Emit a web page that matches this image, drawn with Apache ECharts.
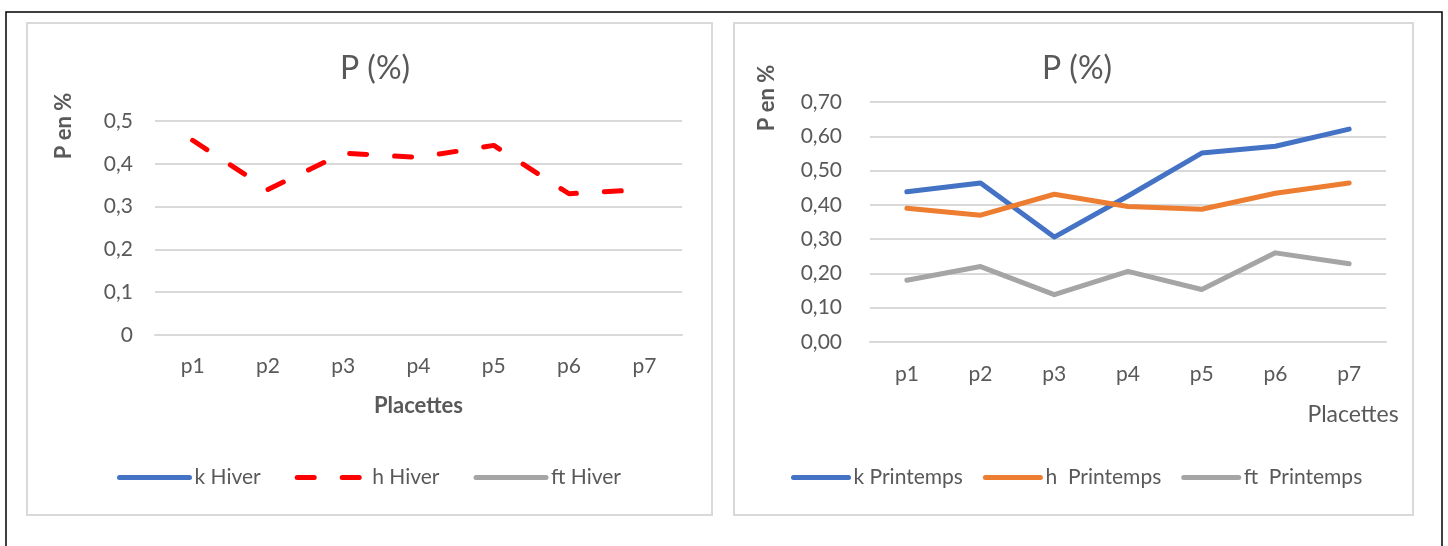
<!DOCTYPE html>
<html>
<head>
<meta charset="utf-8">
<script src="https://cdn.jsdelivr.net/npm/echarts@6/dist/echarts.min.js"></script>
<style>
  html, body { margin: 0; padding: 0; background: #ffffff; }
  #chart { width: 1448px; height: 546px; }
</style>
</head>
<body>
<div id="chart"></div>
<script>
// Placettes (plots) on the horizontal axis
const categories = ['p1', 'p2', 'p3', 'p4', 'p5', 'p6', 'p7'];

// Winter series (only h was measured)
const kHiver = [];
const hHiver = [0.455, 0.34, 0.425, 0.415, 0.443, 0.33, 0.34];
const ftHiver = [];

// Spring series
const kPrintemps = [0.438, 0.464, 0.306, 0.426, 0.551, 0.571, 0.621];
const hPrintemps = [0.390, 0.370, 0.431, 0.395, 0.387, 0.434, 0.464];
const ftPrintemps = [0.180, 0.220, 0.138, 0.206, 0.153, 0.260, 0.228];

// Value axis ranges
const winterAxis = { min: 0, max: 0.5, interval: 0.1 };
const springAxis = { min: 0, max: 0.7, interval: 0.1 };

const FONT = 'Lato';
const TEXT = '#595959';
const GRID_LINE = '#d9d9d9';
const BLUE = '#4472c4';
const ORANGE = '#ed7d31';
const GREY = '#a5a5a5';
const RED = '#ff0000';
const LINE_W = 5;
const DASH = [17, 28];

const chart = echarts.init(document.getElementById('chart'), null, { renderer: 'canvas' });

function catAxis(gridIndex, labelMargin) {
  return {
    type: 'category',
    gridIndex: gridIndex,
    data: categories,
    boundaryGap: true,
    axisTick: { show: false },
    axisLine: { show: true, lineStyle: { color: GRID_LINE, width: 2 } },
    axisLabel: { color: TEXT, fontFamily: FONT, fontSize: 21, margin: labelMargin }
  };
}

function valAxis(gridIndex, range, decimals, labelMargin) {
  return {
    type: 'value',
    gridIndex: gridIndex,
    min: range.min,
    max: range.max,
    interval: range.interval,
    axisLine: { show: false },
    axisTick: { show: false },
    splitLine: { show: true, lineStyle: { color: GRID_LINE, width: 2 } },
    axisLabel: {
      color: TEXT, fontFamily: FONT, fontSize: 21, margin: labelMargin,
      formatter: function (v) {
        if (decimals === 1 && v === 0) return '0';
        return v.toFixed(decimals).replace('.', ',');
      }
    }
  };
}

function lineSeries(name, data, color, axisIndex, dashed) {
  return {
    name: name,
    type: 'line',
    xAxisIndex: axisIndex,
    yAxisIndex: axisIndex,
    data: data,
    symbol: 'none',
    showSymbol: false,
    itemStyle: { color: color },
    lineStyle: {
      color: color,
      width: LINE_W,
      type: dashed ? DASH : 'solid',
      cap: 'round',
      join: 'round'
    },
    emphasis: { disabled: true },
    animation: false
  };
}

// legend entries drawn as a plain thick line (no marker)
const legendBase = {
  itemHeight: 3,
  selectedMode: false,
  itemStyle: { color: 'rgba(0,0,0,0)', borderWidth: 0 },
  lineStyle: { width: LINE_W, cap: 'round' },
  textStyle: { color: TEXT, fontFamily: FONT, fontSize: 21 }
};

const option = {
  animation: false,
  backgroundColor: '#ffffff',
  title: [
    { text: 'P (%)', left: 370, top: 48, textAlign: 'center',
      textStyle: { color: TEXT, fontFamily: FONT, fontSize: 32, fontWeight: 'normal' } },
    { text: 'P (%)', left: 1072, top: 48, textAlign: 'center',
      textStyle: { color: TEXT, fontFamily: FONT, fontSize: 32, fontWeight: 'normal' } }
  ],
  grid: [
    { left: 155, top: 121, width: 527, height: 214, containLabel: false },
    { left: 870, top: 102, width: 516, height: 240, containLabel: false }
  ],
  xAxis: [
    Object.assign(catAxis(0, 21), {
      name: 'Placettes',
      nameLocation: 'middle',
      nameGap: 60,
      nameTextStyle: { color: TEXT, fontFamily: FONT, fontSize: 22, fontWeight: 'bold' }
    }),
    catAxis(1, 22)
  ],
  yAxis: [
    valAxis(0, winterAxis, 1, 22),
    valAxis(1, springAxis, 2, 28)
  ],
  legend: [
    Object.assign({}, legendBase, {
      data: ['k Hiver', 'h Hiver', 'ft Hiver'],
      left: 112, top: 462,
      itemWidth: 70, itemGap: 34
    }),
    Object.assign({}, legendBase, {
      data: ['k Printemps', 'h  Printemps', 'ft  Printemps'],
      left: 786, top: 462,
      itemWidth: 55, itemGap: 20
    })
  ],
  series: [
    lineSeries('k Hiver', kHiver, BLUE, 0, false),
    lineSeries('h Hiver', hHiver, RED, 0, true),
    lineSeries('ft Hiver', ftHiver, GREY, 0, false),
    lineSeries('k Printemps', kPrintemps, BLUE, 1, false),
    lineSeries('h  Printemps', hPrintemps, ORANGE, 1, false),
    lineSeries('ft  Printemps', ftPrintemps, GREY, 1, false)
  ],
  graphic: [
    // outer frame (top, left, right edges)
    { type: 'polyline', silent: true, shape: { points: [[6, 546], [6, 12], [1442, 12], [1442, 546]] },
      style: { stroke: '#000000', lineWidth: 1.5, fill: null } },
    // panel frames
    { type: 'rect', silent: true, shape: { x: 27, y: 23, width: 685, height: 492 },
      style: { stroke: GRID_LINE, lineWidth: 2, fill: null } },
    { type: 'rect', silent: true, shape: { x: 734, y: 23, width: 679, height: 492 },
      style: { stroke: GRID_LINE, lineWidth: 2, fill: null } },
    // value-axis names
    { type: 'text', silent: true, x: 64, y: 126, rotation: Math.PI / 2,
      style: { text: 'P en %', fill: TEXT, font: 'bold 22px ' + FONT, align: 'center', verticalAlign: 'middle' } },
    { type: 'text', silent: true, x: 767, y: 98, rotation: Math.PI / 2,
      style: { text: 'P en %', fill: TEXT, font: 'bold 22px ' + FONT, align: 'center', verticalAlign: 'middle' } },
    // category-axis name of the spring panel
    { type: 'text', silent: true, x: 1353, y: 415,
      style: { text: 'Placettes', fill: TEXT, font: '23px ' + FONT, align: 'center', verticalAlign: 'middle' } }
  ]
};

chart.setOption(option);
</script>
</body>
</html>
